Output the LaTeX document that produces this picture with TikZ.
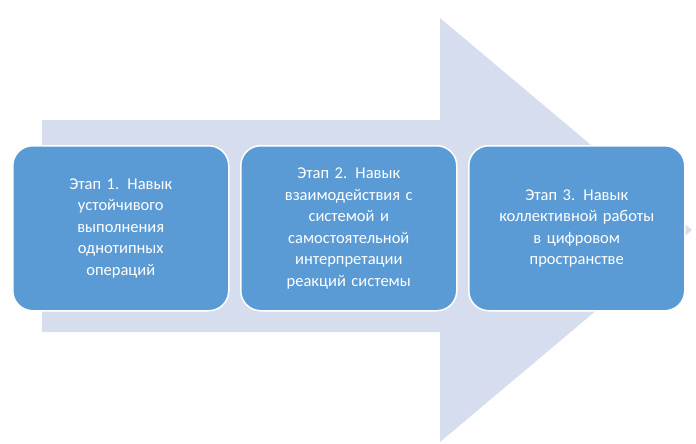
\documentclass[tikz,border=0pt]{standalone}
\usepackage{fontspec}
\setmainfont{Carlito}
\begin{document}
\begin{tikzpicture}[x=1pt,y=-1pt,
  stagebox/.style={draw=white,line width=1.5pt,fill=boxblue,rounded corners=20pt,minimum width=216pt,minimum height=165pt,text width=190pt,align=center,text=white,font=\fontsize{16.5}{21.5}\selectfont,anchor=north west}]
\definecolor{boxblue}{HTML}{5B9BD5}
\definecolor{arrowfill}{HTML}{D5DDEF}
\useasboundingbox (0,0) rectangle (696,444);
\fill[arrowfill] (42,120) -- (440,120) -- (440,18) -- (692,230) -- (440,442) -- (440,332) -- (42,332) -- cycle;
\node[stagebox] (s1) at (12,145) {Этап 1. Навык\\ устойчивого\\ выполнения\\ однотипных\\ операций};
\node[stagebox] (s2) at (240,145) {Этап 2. Навык\\ взаимодействия с\\ системой и\\ самостоятельной\\ интерпретации\\ реакций системы};
\node[stagebox] (s3) at (468,145) {Этап 3. Навык\\ коллективной работы\\ в цифровом\\ пространстве};
\end{tikzpicture}
\end{document}
